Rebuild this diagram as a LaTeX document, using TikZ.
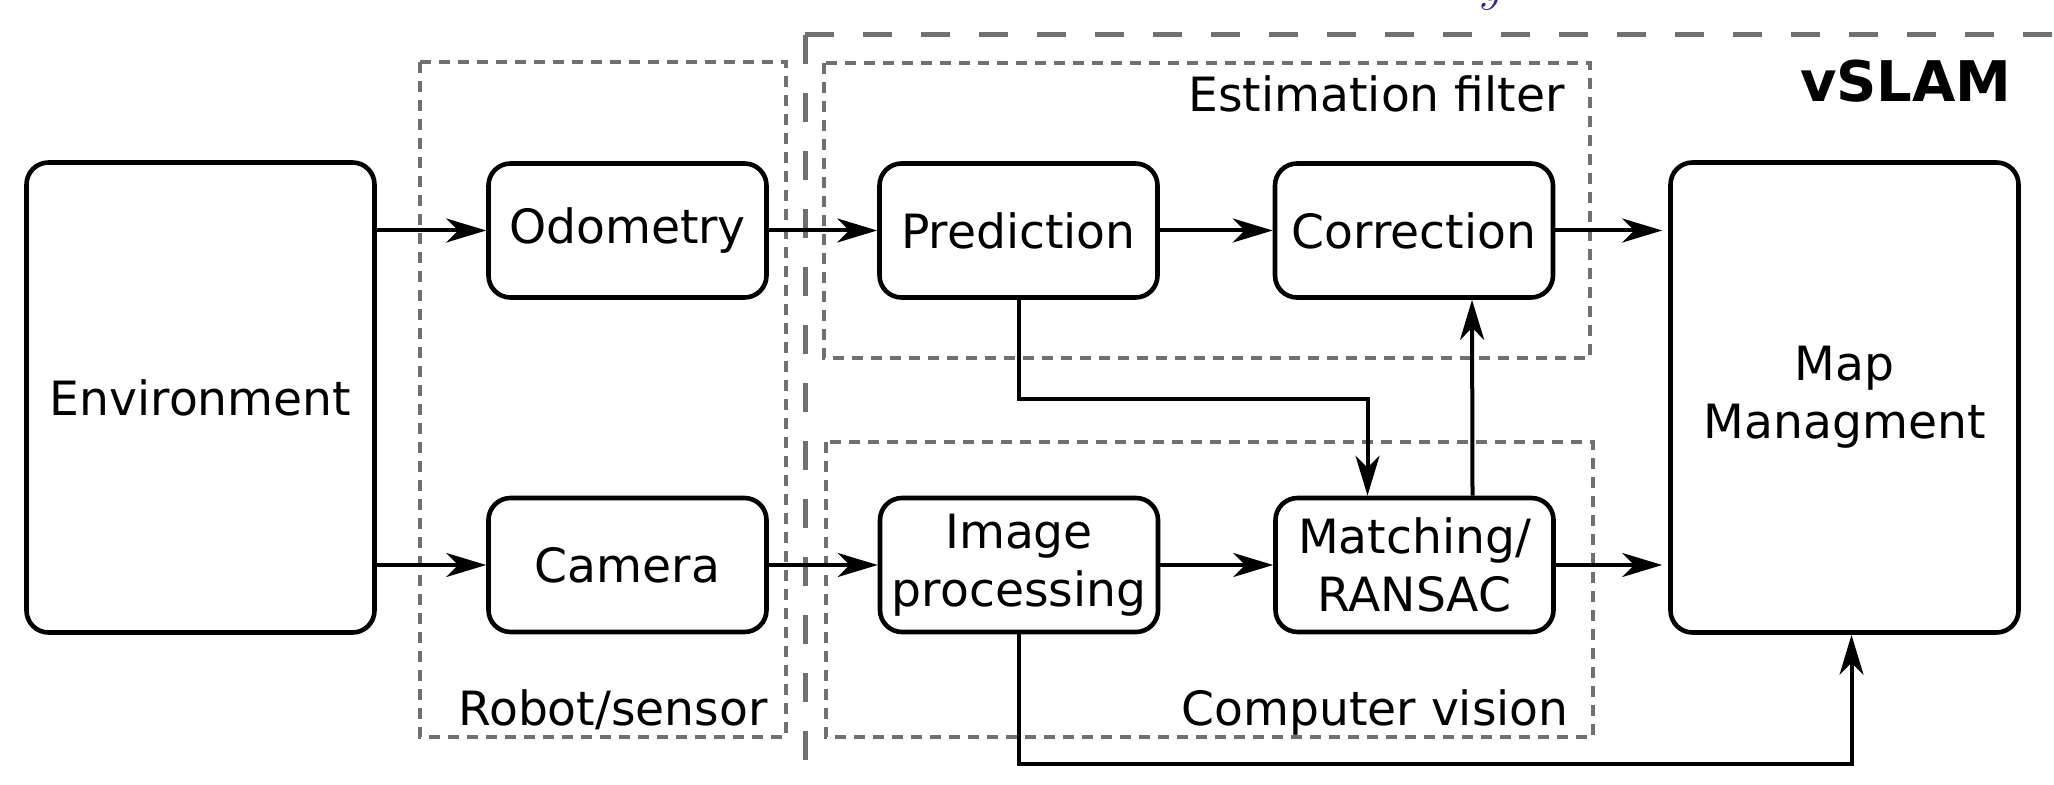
\documentclass[tikz,border=0pt]{standalone}
\usepackage{fontspec}
\setmainfont{DejaVu Sans}
\usetikzlibrary{arrows.meta}
\definecolor{slamgray}{HTML}{707070}
\definecolor{slamblue}{HTML}{2B2B8F}

\begin{document}
\begin{tikzpicture}[x=0.5pt, y=-0.5pt,
  font=\fontsize{23.6}{29}\selectfont,
  block/.style={draw, line width=2.3pt, rounded corners=11pt, align=center,
    inner sep=2pt, minimum width=139pt, minimum height=67pt},
  bigblock/.style={block, minimum width=174pt, minimum height=235pt},
  arr/.style={-{Stealth[length=20pt, width=12pt, inset=6pt]}, line width=2pt},
  group/.style={draw=slamgray, line width=2.2pt, dash pattern=on 5.5pt off 4pt},
  grouplabel/.style={anchor=base east, inner sep=0pt}]
  \useasboundingbox (0,0) rectangle (2054,785);

  % Stray glyph cut off at the top edge
  \node[text=slamblue, anchor=base, inner sep=0pt,
    font=\fontsize{52}{52}\selectfont] (stray) at (1492,1) {$y$};

  % vSLAM frame, runs off the page
  \draw[slamgray, line width=2.5pt, dash pattern=on 14.5pt off 14.5pt] (805,35) -- (2060,35);
  \draw[slamgray, line width=2.5pt, dash pattern=on 14.5pt off 14.5pt] (805,35) -- (805,790);
  \node[font=\fontsize{28}{30}\selectfont\bfseries, grouplabel] (lslam) at (2012,102) {vSLAM};

  % Groups
  \draw[group] (420,62) rectangle (786,737);
  \draw[group] (824,63) rectangle (1590,358);
  \draw[group] (826,442) rectangle (1593,737);
  \node[grouplabel] (lrobot) at (768,725) {Robot/sensor};
  \node[grouplabel] (lfilter) at (1565,112) {Estimation filter};
  \node[grouplabel] (lvision) at (1569,725) {Computer vision};

  % Blocks
  \node[bigblock] (env) at (200.5,397.5) {Environment};
  \node[bigblock] (map) at (1844.5,397.5) {Map\\Managment};
  \foreach \n/\x/\y/\t in {odo/627.5/230.5/Odometry, cam/627.5/565/Camera,
    pred/1018.5/230.5/Prediction, corr/1414/230.5/Correction,
    img/1019/565/{Image\\processing}, match/1414.5/565/{Matching/\\RANSAC}} {
    \node[block] (\n) at (\x,\y) {\t};
  }

  % Arrows
  \draw[arr] (odo -| env.east) -- (odo.west);
  \draw[arr] (cam -| env.east) -- (cam.west);
  \foreach \a/\b in {odo/pred, pred/corr, cam/img, img/match} {
    \draw[arr] (\a) -- (\b);
  }
  \draw[arr, shorten >=3pt] (corr.east) -- (corr -| map.west);
  \draw[arr, shorten >=3pt] (match.east) -- (match -| map.west);
  \draw[arr] (pred.south) -- ++(0,99) -| ([xshift=-23.5pt]match.north);
  \draw[arr] ([xshift=29pt]match.north) -- ([xshift=29pt]corr.south);
  \draw[arr] (img.south) -- ++(0,130) -| ([xshift=3.5pt]map.south);
\end{tikzpicture}
\end{document}
